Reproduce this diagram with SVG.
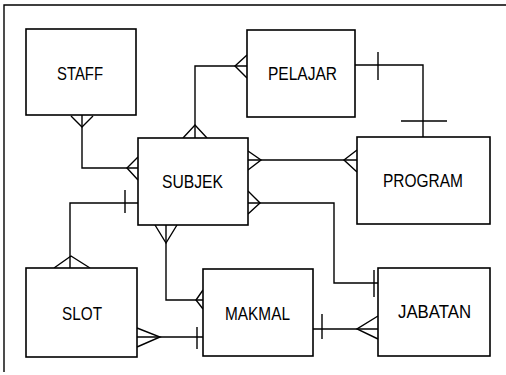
<svg xmlns="http://www.w3.org/2000/svg" width="506" height="375" viewBox="0 0 506 375">
<style>
.box{fill:#fff;stroke:#000;stroke-width:1.6}
.lbl{font-family:"Liberation Sans",Arial,sans-serif;font-size:18px;fill:#000}
.c{fill:none;stroke:#000;stroke-width:1.4}
</style>
<rect width="506" height="375" fill="#fff"/>
<path d="M4,372 V5 H506" fill="none" stroke="#000" stroke-width="1.4"/>
<g id="connectors">
<!-- STAFF - SUBJEK -->
<path class="c" d="M82,115 V168 H138"/>
<path class="c" d="M71,116 L82,127 L93,116"/>
<path class="c" d="M138,157 L127,168 L138,180"/>
<!-- SUBJEK - PELAJAR -->
<path class="c" d="M195,138 V66 H247"/>
<path class="c" d="M183,138 L195,125 L207,138"/>
<path class="c" d="M247,55 L235,66 L247,78"/>
<!-- PELAJAR - PROGRAM -->
<path class="c" d="M355,65 H423 V137"/>
<path class="c" d="M378,52 V80"/>
<path class="c" d="M401,121 H447"/>
<!-- SUBJEK - PROGRAM -->
<path class="c" d="M248,160 H357"/>
<path class="c" d="M248,151 L261,160 L248,170"/>
<path class="c" d="M357,150 L344,160 L357,172"/>
<!-- SUBJEK - JABATAN -->
<path class="c" d="M248,203 H334 V283 H378"/>
<path class="c" d="M248,191 L260,203 L248,214"/>
<path class="c" d="M374,270 V297"/>
<!-- SUBJEK - SLOT -->
<path class="c" d="M138,203 H70 V268"/>
<path class="c" d="M125,190 V213"/>
<path class="c" d="M54,268 L71,256 L90,268"/>
<!-- SUBJEK - MAKMAL -->
<path class="c" d="M166,225 V300 H203"/>
<path class="c" d="M155,225 L166,243 L177,225"/>
<path class="c" d="M203,290 L196,300 L203,309"/>
<!-- SLOT - MAKMAL -->
<path class="c" d="M137,337 H203"/>
<path class="c" d="M137,328 L160,337 L137,347"/>
<path class="c" d="M197,327 V349"/>
<!-- MAKMAL - JABATAN -->
<path class="c" d="M313,329 H378"/>
<path class="c" d="M322,314 V339"/>
<path class="c" d="M378,316 L357,329 L378,339"/>
</g>
<g id="staff"><rect class="box" x="26" y="29" width="110" height="86"/><text class="lbl" x="57" y="80" textLength="46" lengthAdjust="spacingAndGlyphs">STAFF</text></g>
<g id="pelajar"><rect class="box" x="247" y="30" width="108" height="87"/><text class="lbl" x="268" y="80" textLength="69" lengthAdjust="spacingAndGlyphs">PELAJAR</text></g>
<g id="subjek"><rect class="box" x="138" y="138" width="110" height="87"/><text class="lbl" x="162" y="188" textLength="61" lengthAdjust="spacingAndGlyphs">SUBJEK</text></g>
<g id="program"><rect class="box" x="357" y="137" width="133" height="87"/><text class="lbl" x="383" y="187" textLength="80" lengthAdjust="spacingAndGlyphs">PROGRAM</text></g>
<g id="slot"><rect class="box" x="26" y="268" width="111" height="89"/><text class="lbl" x="62" y="320" textLength="40" lengthAdjust="spacingAndGlyphs">SLOT</text></g>
<g id="makmal"><rect class="box" x="203" y="269" width="110" height="87"/><text class="lbl" x="225" y="320" textLength="65" lengthAdjust="spacingAndGlyphs">MAKMAL</text></g>
<g id="jabatan"><rect class="box" x="378" y="268" width="112" height="88"/><text class="lbl" x="398" y="318" textLength="73" lengthAdjust="spacingAndGlyphs">JABATAN</text></g>
</svg>
